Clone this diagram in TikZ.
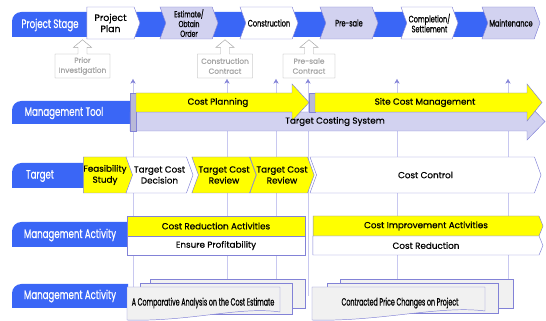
\documentclass[tikz,border=0pt]{standalone}
\usepackage{fontspec}
\setmainfont[FakeBold=0.6]{Poppins}
\newfontfamily\narrowfont[FakeStretch=0.7,FakeBold=0.6]{Poppins}
\newfontfamily\tightfont[FakeStretch=0.6,FakeBold=0.6]{Poppins}
\usetikzlibrary{shapes.symbols,shapes.arrows,arrows.meta}

\definecolor{stageblue}{RGB}{58,102,246}
\definecolor{lavfill}{RGB}{210,210,240}
\definecolor{lavline}{RGB}{130,130,215}
\definecolor{guide}{RGB}{200,200,240}
\definecolor{hintgray}{RGB}{165,165,165}
\definecolor{docfill}{RGB}{241,241,241}
\definecolor{markyellow}{RGB}{255,255,0}

\tikzset{
  bandtext/.style={text=white,font=\narrowfont\fontsize{10.5}{12}\selectfont},
  chevron/.style={shape=signal,signal to=east,signal from=west,signal pointer angle=140,
    draw=lavline,inner sep=0pt,align=center},
  stagebox/.style={chevron,minimum height=0.96cm,font=\narrowfont\fontsize{8}{8.5}\selectfont},
  targetbox/.style={chevron,minimum height=1.08cm,font=\fontsize{7.5}{9.4}\selectfont},
  hint/.style={shape=arrow box,draw=hintgray,fill=white,text=hintgray,
    arrow box arrows={north:0.42cm},arrow box shaft width=0.27cm,
    arrow box head extend=0.135cm,arrow box tip angle=100,
    minimum width=1.65cm,minimum height=0.72cm,inner sep=0pt,align=center,
    font=\fontsize{6.3}{8.5}\selectfont},
  tooltext/.style={font=\fontsize{7.5}{9}\selectfont},
  actbox/.style={draw=lavline,inner sep=0pt,font=\fontsize{7.5}{9}\selectfont},
  docpage/.style={draw=lavline,fill=docfill},
}

\begin{document}
\begin{tikzpicture}[x=0.03cm,y=-0.03cm]
        \useasboundingbox (0,0) rectangle (546,321);

        % guide lines running down from the stages
        \foreach \x/\y in {133/290,227/290,276/280,308/296,397/280,508/280}
            \draw[guide,-{Stealth[length=4pt,width=4.5pt,color=lavline]}] (\x,\y) -- (\x,79);

        % blue row labels
        \fill[stageblue] (12,37) [rounded corners=8pt] -- (12,12) -- (40,12) [sharp corners] -- (490,12) -- (490,37) -- cycle;
        \fill[stageblue] (12,124) [rounded corners=8pt] -- (12,101) -- (40,101) [sharp corners] -- (131,101) -- (131,124) -- cycle;
        \fill[stageblue] (12,188) [rounded corners=8pt] -- (12,163) -- (40,163) [sharp corners] -- (84,163) -- (84,188) -- cycle;
        \fill[stageblue] (12,247) [rounded corners=8pt] -- (12,222) -- (40,222) [sharp corners] -- (128,222) -- (128,247) -- cycle;
        \fill[stageblue] (12,308) [rounded corners=8pt] -- (12,284) -- (40,284) [sharp corners] -- (128,284) -- (128,308) -- cycle;

        \node[bandtext] (stagelbl) at (50,25) {Project Stage};
        \node[bandtext] (toollbl) at (64,113) {Management Tool};
        \node[bandtext] (targetlbl) at (40,176) {Target};
        \node[bandtext] (actlbl) at (70,235) {Management Activity};
        \node[bandtext] (act2lbl) at (70,296) {Management Activity};

        % project stages
        \node[stagebox,signal from=nowhere,fill=white,minimum width=1.59cm,font=\fontsize{8}{9.5}\selectfont] (plan) at (110.5,23) {Project\\Plan};
        \node[stagebox,fill=lavfill,minimum width=1.74cm,font=\narrowfont\fontsize{7.5}{8.3}\selectfont] (estimate) at (189,23) {Estimate/\\Obtain\\Order};
        \node[stagebox,fill=white,minimum width=1.74cm] (construct) at (269,23) {Construction};
        \node[stagebox,fill=lavfill,minimum width=1.74cm] (presale) at (349,23) {Pre-sale};
        \node[stagebox,fill=white,minimum width=1.71cm] (complete) at (429.5,23) {Completion/\\Settlement};
        \node[stagebox,fill=lavfill,minimum width=1.74cm] (maint) at (511,23) {Maintenance};

        \node[hint] (priorinv) at (82.5,66) {Prior\\Investigation};
        \node[hint] (contract) at (225,66) {Construction\\Contract};
        \node[hint,minimum width=1.56cm] (salecontract) at (309,66) {Pre-sale\\Contract};

        % management tools
        \draw[lavline,fill=lavfill] (130,112) -- (527,112) -- (527,103) -- (545,121.5) -- (527,140) -- (527,131) -- (130,131) -- cycle;
        \draw[lavline,fill={rgb,255:red,185;green,185;blue,215}] (130,93) rectangle (136,131);
        \draw[lavline,fill=markyellow] (136,93) -- (292,93) -- (292,84) -- (309,102.5) -- (292,121) -- (292,112) -- (136,112) -- cycle;
        \draw[lavline,fill={rgb,255:red,185;green,185;blue,215}] (309,93) rectangle (315,112);
        \draw[lavline,fill=markyellow] (315,93) -- (527,93) -- (527,84) -- (542,102.5) -- (527,121) -- (527,112) -- (315,112) -- cycle;
        \node[tooltext] (planning) at (218,102.5) {Cost Planning};
        \node[tooltext] (sitecost) at (425,102.5) {Site Cost Management};
        \node[tooltext] (costing) at (335,121.5) {Target Costing System};

        % targets
        \node[targetbox,signal from=nowhere,fill=markyellow,minimum width=1.38cm] (feasible) at (105,175) {Feasibility\\Study};
        \node[targetbox,fill=white,minimum width=2.01cm] (decision) at (159.5,175) {Target Cost\\Decision};
        \node[targetbox,fill=markyellow,minimum width=1.68cm] (review) at (224,175) {Target Cost\\Review};
        \node[targetbox,fill=markyellow,minimum width=1.8cm] (rereview) at (282,175) {Target Cost\\Review};
        \node[targetbox,fill=white,minimum width=6.93cm] (control) at (425.5,175) {Cost Control};

        % activities
        \node[actbox,fill=markyellow,minimum width=5.34cm,minimum height=0.6cm] (reduceact) at (216,226) {Cost Reduction Activities};
        \node[actbox,fill=white,minimum width=5.34cm,minimum height=0.57cm] (profit) at (216,245.5) {Ensure Profitability};
        \node[actbox,chevron,signal from=nowhere,signal pointer angle=136,fill=markyellow,minimum width=6.9cm,minimum height=0.6cm] (improveact) at (426,226) {Cost Improvement Activities};
        \node[actbox,chevron,signal from=nowhere,signal pointer angle=136,fill=white,minimum width=6.9cm,minimum height=0.57cm] (reduction) at (426,245.5) {Cost Reduction};

        % document stacks
        \draw[docpage] (150,279) rectangle (305,308);
        \draw[docpage] (140,283) rectangle (292,314);
        \draw[docpage] (127,287) -- (280,287) -- (280,312) .. controls (240,306) and (190,322) .. (127,320) -- cycle;
        \draw[docpage] (340,279) rectangle (513,308);
        \draw[docpage] (327,283) rectangle (498,313);
        \draw[docpage] (312,287) -- (485,287) -- (485,311) .. controls (440,305) and (380,322) .. (312,320) -- cycle;
        \node[font=\tightfont\fontsize{9}{10}\selectfont] (compare) at (203,303) {A Comparative Analysis on the Cost Estimate};
        \node[font=\tightfont\fontsize{9}{10}\selectfont] (pricechg) at (400,303) {Contracted Price Changes on Project};
\end{tikzpicture}
\end{document}
